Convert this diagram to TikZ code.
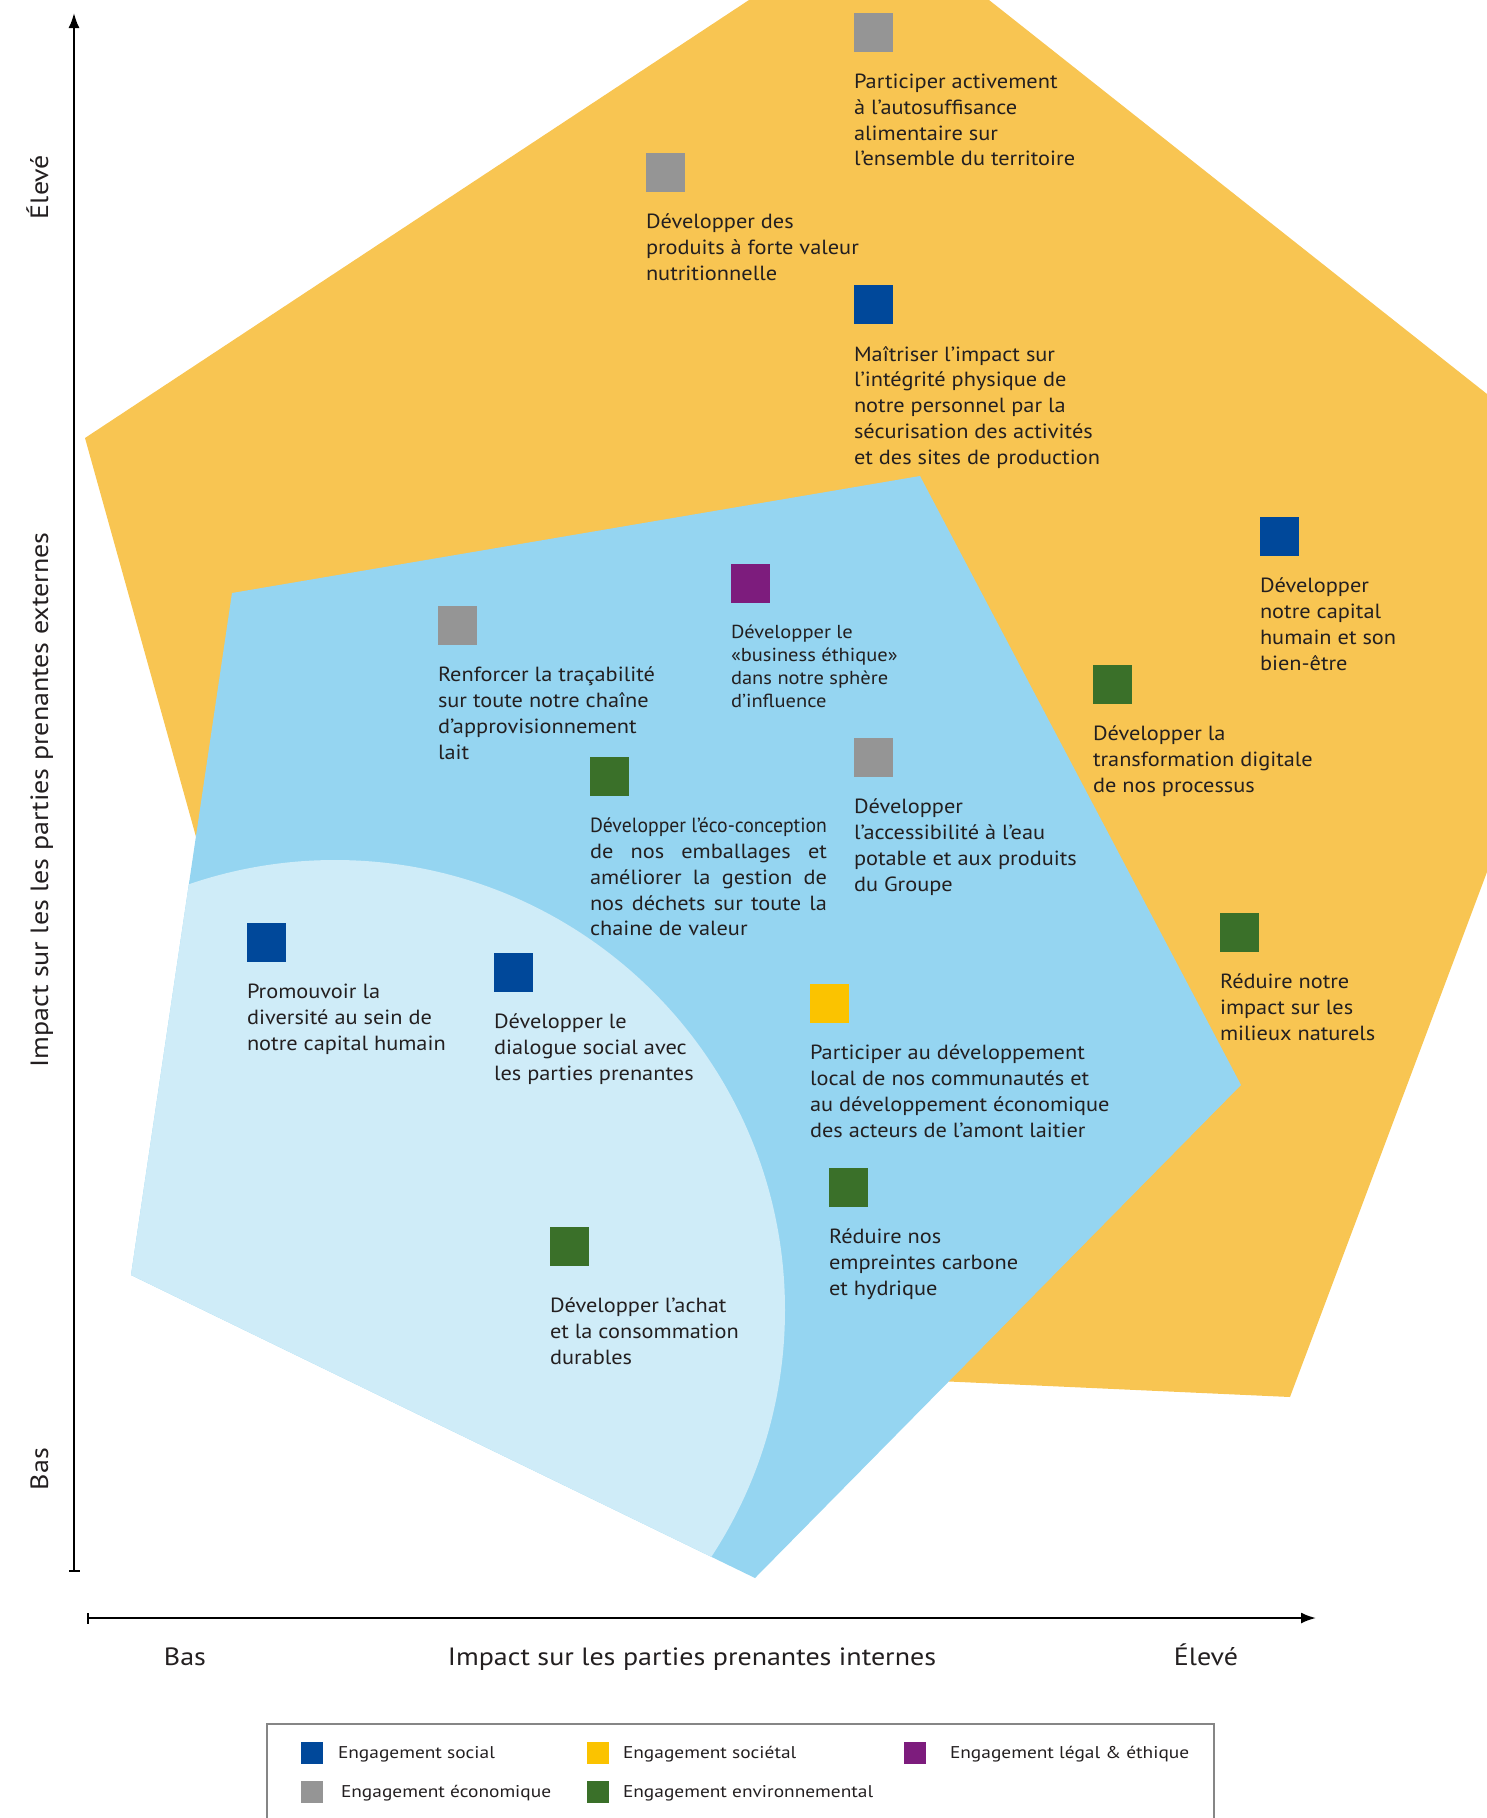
\documentclass[tikz,border=0pt]{standalone}
\usepackage{fontspec}
\setmainfont{PT Sans}[FakeStretch=1.09]
\newfontfamily\axisfont{PT Sans}[FakeStretch=1.12]
\newfontfamily\keyfont{PT Sans}[FakeStretch=1.14]
\usetikzlibrary{positioning,arrows.meta}
\definecolor{zoneext}{HTML}{F8C552}
\definecolor{zonemid}{HTML}{95D5F1}
\definecolor{zoneint}{HTML}{CFECF8}
\definecolor{social}{HTML}{00489A}
\definecolor{societal}{HTML}{FBC300}
\definecolor{legal}{HTML}{7D1C7D}
\definecolor{eco}{HTML}{959595}
\definecolor{env}{HTML}{3A7029}
\definecolor{ink}{HTML}{231F20}
\newcommand\jline[1]{\makebox[237pt][s]{#1}}

\begin{document}
\begin{tikzpicture}[
  x=1pt, y=-1pt,
  every node/.style = {inner sep=0pt, outer sep=0pt, text=ink},
  sq/.style = {minimum size=39pt, anchor=north west},
  txt/.style = {font=\fontsize{20.5}{25.8}\selectfont, align=left,
    execute at begin node=\strut, below=22pt of #1.south west, anchor=north west},
  smalltxt/.style = {txt=#1, font=\fontsize{18.8}{23.3}\selectfont,
    below=21.5pt of #1.south west, anchor=north west},
  axis/.style = {line width=2pt, {Bar[width=11pt]}-{Latex[length=15pt,width=11pt]}},
  lab/.style = {font=\axisfont\fontsize{25}{30}\selectfont, anchor=base},
  key/.style = {minimum size=22pt, anchor=north west},
  keytxt/.style = {font=\keyfont\fontsize{17}{20}\selectfont, anchor=base west}
  ]
  \useasboundingbox (0,0) rectangle (1487,1818);

  \fill[zoneext] (749,0) -- (989,0) -- (1487,394) -- (1487,872) -- (1290,1397)
    -- (850,1377) -- (215,905) -- (85,438) -- cycle;
  \begin{scope}
    \clip (232,593) -- (920,476) -- (1241,1085) -- (755,1578) -- (131,1275) -- cycle;
    \fill[zonemid] (0,0) rectangle (1487,1818);
    \fill[zoneint] (335,1310) circle[radius=450];
  \end{scope}

  \coordinate (ybot) at (74,1572);
  \coordinate (ytop) at (74,13);
  \coordinate (xleft) at (87,1618);
  \coordinate (xright) at (1316,1618);
  \draw[axis] (ybot) -- (ytop);
  \draw[axis] (xleft) -- (xright);

  \node[lab, rotate=90] (ylow) at (48,1469) {Bas};
  \node[lab, rotate=90] (ytitle) at (48,800) {Impact sur les les parties prenantes externes};
  \node[lab, rotate=90] (yhigh) at (48,187) {Élevé};
  \node[lab] (xlow) at (185,1665) {Bas};
  \node[lab] (xtitle) at (692,1665) {Impact sur les parties prenantes internes};
  \node[lab] (xhigh) at (1206,1665) {Élevé};

  \node[sq, fill=eco] (autosuf) at (854,13) {};
  \node[txt=autosuf] (autosuf-t) {Participer activement\\à l’autosuffisance\\alimentaire sur\\l’ensemble du territoire};
  \node[sq, fill=eco] (nutri) at (646,153) {};
  \node[txt=nutri] (nutri-t) {Développer des\\produits à forte valeur\\nutritionnelle};
  \node[sq, fill=social] (securite) at (854,285) {};
  \node[txt=securite] (securite-t) {Maîtriser l’impact sur\\l’intégrité physique de\\notre personnel par la\\sécurisation des activités\\et des sites de production};
  \node[sq, fill=social] (capital) at (1260,517) {};
  \node[txt=capital] (capital-t) {Développer\\notre capital\\humain et son\\bien-être};
  \node[sq, fill=legal] (ethique) at (731,564) {};
  \node[smalltxt=ethique] (ethique-t) {Développer le\\«business éthique»\\dans notre sphère\\d’influence};
  \node[sq, fill=eco] (traca) at (438,606) {};
  \node[txt=traca] (traca-t) {Renforcer la traçabilité\\sur toute notre chaîne\\d’approvisionnement\\lait};
  \node[sq, fill=env] (digital) at (1093,665) {};
  \node[txt=digital] (digital-t) {Développer la\\transformation digitale\\de nos processus};
  \node[sq, fill=eco] (eau) at (854,738) {};
  \node[txt=eau] (eau-t) {Développer\\l’accessibilité à l’eau\\potable et aux produits\\du Groupe};
  \node[sq, fill=env] (emball) at (590,757) {};
  \node[txt=emball] (emball-t) {\resizebox{237pt}{\height}{Développer l’éco-conception}\\\jline{de nos emballages et}\\\jline{améliorer la gestion de}\\\jline{nos déchets sur toute la}\\chaine de valeur};
  \node[sq, fill=social] (diversite) at (247,923) {};
  \node[txt=diversite] (diversite-t) {Promouvoir la\\diversité au sein de\\notre capital humain};
  \node[sq, fill=social] (dialogue) at (494,953) {};
  \node[txt=dialogue] (dialogue-t) {Développer le\\dialogue social avec\\les parties prenantes};
  \node[sq, fill=env] (milieux) at (1220,913) {};
  \node[txt=milieux] (milieux-t) {Réduire notre\\impact sur les\\milieux naturels};
  \node[sq, fill=societal] (local) at (810,984) {};
  \node[txt=local] (local-t) {Participer au développement\\local de nos communautés et\\au développement économique\\des acteurs de l’amont laitier};
  \node[sq, fill=env] (carbone) at (829,1168) {};
  \node[txt=carbone] (carbone-t) {Réduire nos\\empreintes carbone\\et hydrique};
  \node[sq, fill=env] (achat) at (550,1227) {};
  \node[txt=achat, below=32pt of achat.south west, anchor=north west] (achat-t) {Développer l’achat\\et la consommation\\durables};

  \draw[line width=2.5pt, eco!90!black] (267,1724) rectangle (1214,1840);
  \node[key, fill=social] (k1) at (301,1742) {};
  \node[keytxt] (k1-t) at (338,1758) {Engagement social};
  \node[key, fill=societal] (k2) at (587,1742) {};
  \node[keytxt] (k2-t) at (623,1758) {Engagement sociétal};
  \node[key, fill=legal] (k3) at (904,1742) {};
  \node[keytxt] (k3-t) at (950,1758) {Engagement légal \& éthique};
  \node[key, fill=eco] (k4) at (301,1781) {};
  \node[keytxt] (k4-t) at (341,1797) {Engagement économique};
  \node[key, fill=env] (k5) at (587,1781) {};
  \node[keytxt] (k5-t) at (623,1797) {Engagement environnemental};
\end{tikzpicture}
\end{document}
